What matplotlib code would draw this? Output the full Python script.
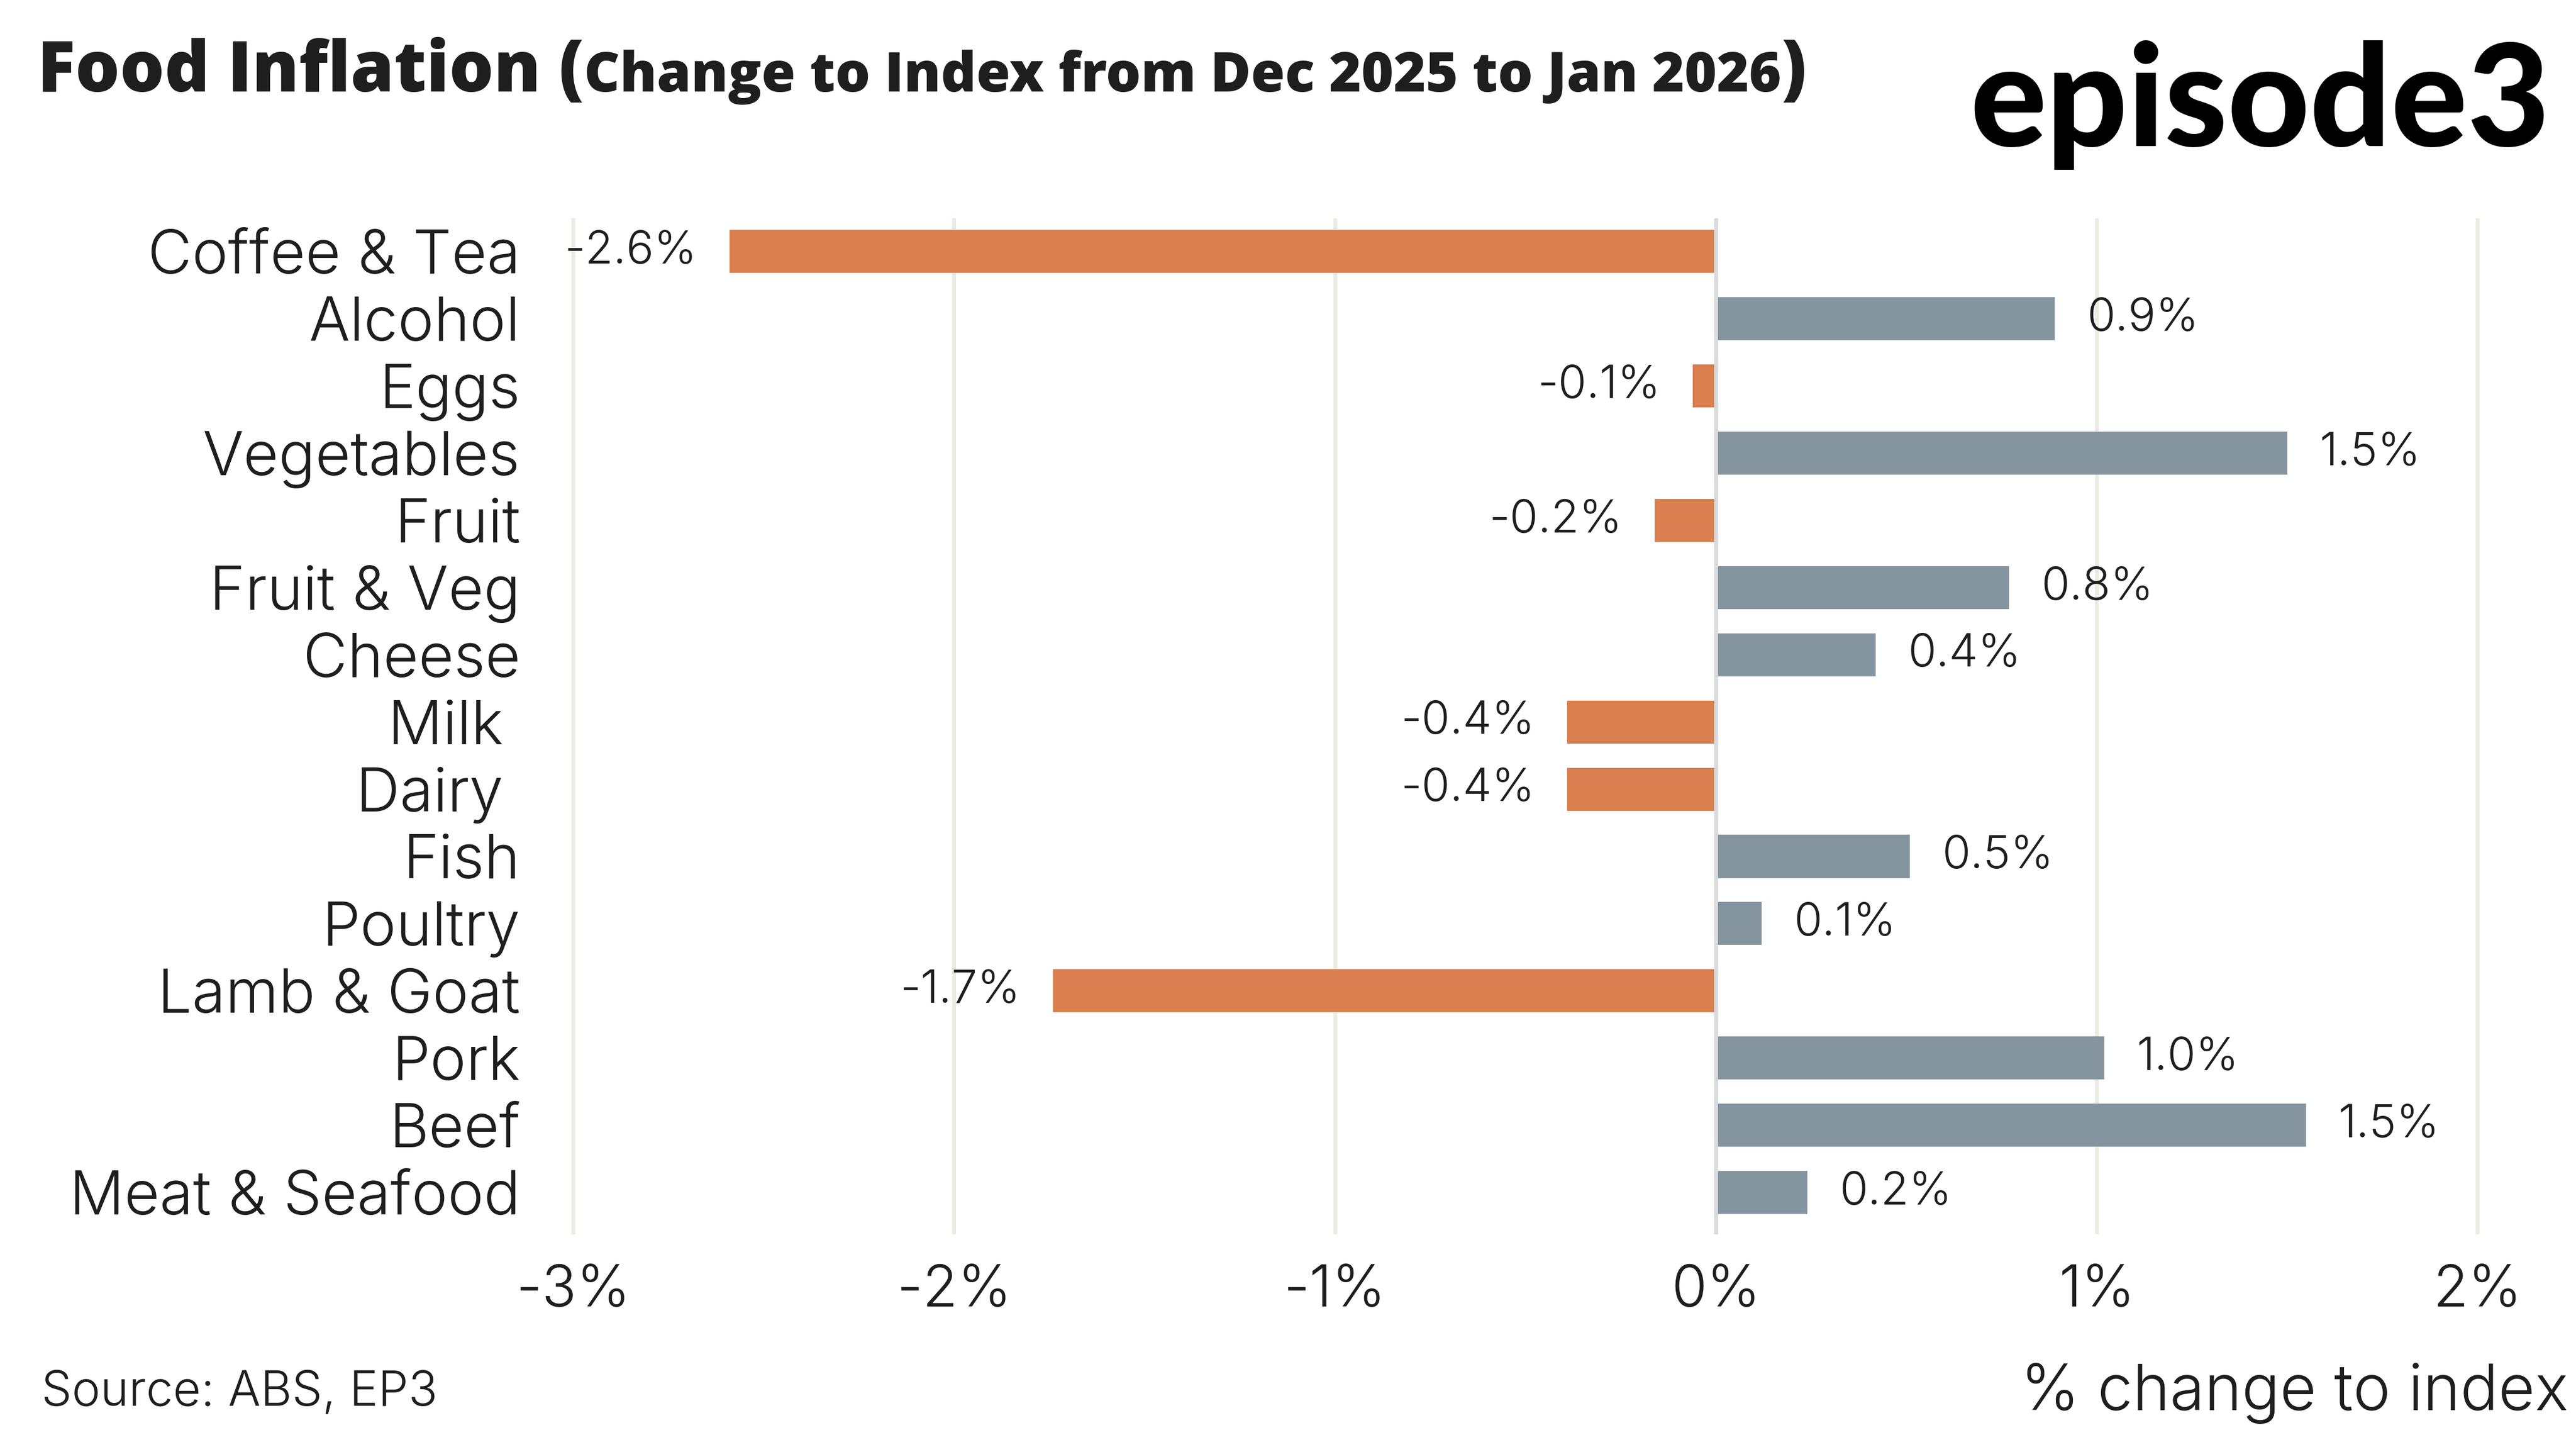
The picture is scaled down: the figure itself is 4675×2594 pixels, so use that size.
import numpy as np
import matplotlib
matplotlib.use("Agg")
import matplotlib.pyplot as plt

# Datos (ABS, cambio del indice Dic 2025 -> Ene 2026)
categorias = ["Coffee & Tea", "Alcohol", "Eggs", "Vegetables", "Fruit", "Fruit & Veg",
              "Cheese", "Milk ", "Dairy ", "Fish", "Poultry", "Lamb & Goat", "Pork",
              "Beef", "Meat & Seafood"]
valores = [-2.59, 0.89, -0.06, 1.50, -0.16, 0.77, 0.42, -0.39, -0.39, 0.51, 0.12,
           -1.74, 1.02, 1.55, 0.24]
etiquetas = ["-2.6%", "0.9%", "-0.1%", "1.5%", "-0.2%", "0.8%", "0.4%", "-0.4%", "-0.4%",
             "0.5%", "0.1%", "-1.7%", "1.0%", "1.5%", "0.2%"]
ticks_x = [-3, -2, -1, 0, 1, 2]
ticks_txt = ["-3%", "-2%", "-1%", "0%", "1%", "2%"]

NARANJA = "#D97F50"
GRIS = "#84959F"
TEXTO = "#1E1E1E"

plt.rcParams['font.family'] = ['Inter', 'DejaVu Sans']
plt.rcParams['font.weight'] = 300

fig = plt.figure(figsize=(4675 / 300, 2594 / 300), dpi=300)
ax = fig.add_axes([0.2225, 0.1384, 0.7393, 0.7078])

y = np.arange(len(categorias))
colores = [NARANJA if v < 0 else GRIS for v in valores]
ax.barh(y, valores, height=0.64, color=colores, zorder=3)

for yi, v, txt in zip(y, valores, etiquetas):
    if v < 0:
        ax.annotate(txt, (v, yi), xytext=(-14, 0), textcoords="offset points",
                    ha="right", va="center", fontsize=20, color=TEXTO, zorder=5)
    else:
        ax.annotate(txt, (v, yi), xytext=(14, 0), textcoords="offset points",
                    ha="left", va="center", fontsize=20, color=TEXTO, zorder=5)

# lineas de grilla y linea del cero
for t in ticks_x:
    if t == 0:
        ax.axvline(t, color="#DADADA", lw=1.7, zorder=4, clip_on=False)
    else:
        ax.axvline(t, color="#EBEBE2", lw=1.7, zorder=1, clip_on=False)

ax.set_xlim(-3, 2)
ax.set_ylim(len(categorias) - 1 + 0.59, -0.47)
ax.set_xticks(ticks_x)
ax.set_xticklabels(ticks_txt, fontsize=25, color=TEXTO)
ax.set_yticks(y)
ax.set_yticklabels(categorias, fontsize=26.5, color=TEXTO)
ax.tick_params(axis="x", length=0, pad=14)
ax.tick_params(axis="y", length=0, pad=23)
for s in ax.spines.values():
    s.set_visible(False)

# Titulo en partes
r = fig.canvas.get_renderer()
t1 = fig.text(0.0145, 0.936, "Food Inflation (", fontsize=30.5, fontweight=800,
              family="Open Sans", color=TEXTO, va="baseline")
w1 = t1.get_window_extent(r).width / fig.bbox.width
t2 = fig.text(0.0145 + w1, 0.936, "Change to Index from Dec 2025 to Jan 2026", fontsize=24,
              fontweight=800, family="Open Sans", color=TEXTO, va="baseline")
w2 = t2.get_window_extent(r).width / fig.bbox.width
fig.text(0.0145 + w1 + w2, 0.936, ")", fontsize=30.5, fontweight=800,
         family="Open Sans", color=TEXTO, va="baseline")

# logo
fig.text(0.99, 0.898, "episode3", fontsize=62, fontweight="black", color="black",
         family="Lato", ha="right", va="baseline")

fig.text(0.016, 0.017, "Source: ABS, EP3", fontsize=21, color=TEXTO, va="baseline")
fig.text(0.997, 0.014, "% change to index", fontsize=27.5, color=TEXTO, ha="right", va="baseline")

fig.savefig("out.png", dpi=300, facecolor="white")
